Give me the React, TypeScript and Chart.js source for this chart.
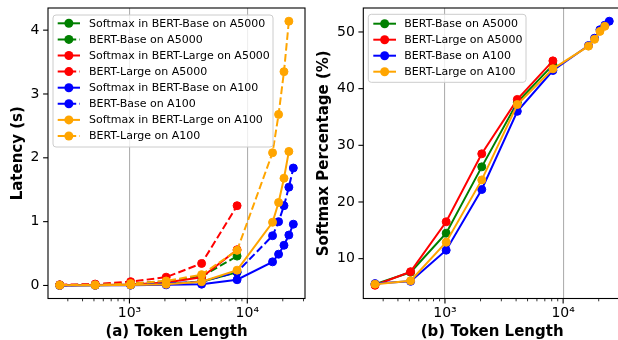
import React, { useEffect, useRef } from 'react';
import { Chart, registerables } from 'chart.js';

Chart.register(...registerables);

// ---- data ----
const tokensA5000 = [256, 512, 1024, 2048, 4096, 8192];
const tokensA100Base = [256, 512, 1024, 2048, 4096, 8192, 16384, 18432, 20480, 22528, 24576];
const tokensA100Large = [256, 512, 1024, 2048, 4096, 8192, 16384, 18432, 20480, 22528];

// latency (s)
const softmaxBaseA5000 = [0.002, 0.004, 0.01, 0.025, 0.06, 0.205];
const bertBaseA5000 = [0.008, 0.012, 0.03, 0.065, 0.14, 0.46];
const softmaxLargeA5000 = [0.003, 0.006, 0.017, 0.045, 0.13, 0.56];
const bertLargeA5000 = [0.012, 0.022, 0.06, 0.13, 0.345, 1.25];
const softmaxBaseA100 = [0.001, 0.002, 0.005, 0.01, 0.02, 0.09, 0.37, 0.49, 0.63, 0.79, 0.96];
const bertBaseA100 = [0.004, 0.008, 0.015, 0.03, 0.06, 0.21, 0.78, 1.0, 1.25, 1.54, 1.84];
const softmaxLargeA100 = [0.002, 0.003, 0.008, 0.02, 0.06, 0.24, 0.99, 1.3, 1.68, 2.1];
const bertLargeA100 = [0.006, 0.01, 0.03, 0.07, 0.17, 0.55, 2.08, 2.68, 3.35, 4.14];

// softmax percentage (%)
const pctBaseA5000 = [5.5, 7.6, 14.5, 26.2, 37.6, 44.2];
const pctLargeA5000 = [5.3, 7.7, 16.5, 28.5, 38.1, 44.9];
const pctBaseA100 = [5.6, 6.0, 11.5, 22.2, 36.0, 43.2, 47.6, 48.9, 50.4, 51.2, 51.9];
const pctLargeA100 = [5.5, 6.1, 12.9, 23.9, 37.2, 43.5, 47.5, 48.7, 50.1, 51.0];

const latencyTicks = [0, 1, 2, 3, 4];
const pctTicks = [10, 20, 30, 40, 50];
const xTickValues = [300, 400, 500, 600, 700, 800, 900, 1000, 2000, 3000, 4000, 5000, 6000, 7000, 8000, 9000, 10000, 20000, 30000];
const xMajorLabels: Record<number, string> = { 1000: '10\u00B3', 10000: '10\u2074' };

const GREEN = '#008000';
const RED = '#ff0000';
const BLUE = '#0000ff';
const ORANGE = '#ffa500';
const FONT = 'DejaVu Sans';

const isMajor = (v: number) => Math.abs(Math.log10(v) - Math.round(Math.log10(v))) < 1e-9;

function series(label: string, xs: number[], ys: number[], color: string, dashed: boolean, idx: number) {
  return {
    label,
    data: xs.map((x, i) => ({ x, y: ys[i] })),
    borderColor: color,
    backgroundColor: color,
    pointBackgroundColor: color,
    pointBorderColor: color,
    borderWidth: 2,
    borderDash: dashed ? [7.6, 3.3] : [],
    pointRadius: 4,
    pointBorderWidth: 1,
    pointHoverRadius: 4,
    tension: 0,
    fill: false,
    order: -idx,
    dashed,
  };
}

const axesPlugin = {
  id: 'mplAxes',
  afterDraw(chart: any, _args: any, opts: any) {
    const { ctx, chartArea: a, scales } = chart;
    ctx.save();
    // spines
    ctx.strokeStyle = '#000';
    ctx.lineWidth = 1.1;
    ctx.strokeRect(a.left, a.top, a.right - a.left, a.bottom - a.top);
    // x ticks
    for (const t of scales.x.ticks) {
      const px = scales.x.getPixelForValue(t.value);
      const major = isMajor(t.value);
      ctx.lineWidth = major ? 1.1 : 0.8;
      ctx.beginPath();
      ctx.moveTo(px, a.bottom);
      ctx.lineTo(px, a.bottom + (major ? 4.9 : 2.8));
      ctx.stroke();
    }
    // y ticks
    for (const t of scales.y.ticks) {
      const py = scales.y.getPixelForValue(t.value);
      ctx.lineWidth = 1.1;
      ctx.beginPath();
      ctx.moveTo(a.left, py);
      ctx.lineTo(a.left - 4.9, py);
      ctx.stroke();
    }
    // legend
    const L = opts.legend;
    if (L) {
      const { x, y, w, h, r } = L.box;
      ctx.beginPath();
      ctx.moveTo(x + r, y);
      ctx.lineTo(x + w - r, y);
      ctx.arcTo(x + w, y, x + w, y + r, r);
      ctx.lineTo(x + w, y + h - r);
      ctx.arcTo(x + w, y + h, x + w - r, y + h, r);
      ctx.lineTo(x + r, y + h);
      ctx.arcTo(x, y + h, x, y + h - r, r);
      ctx.lineTo(x, y + r);
      ctx.arcTo(x, y, x + r, y, r);
      ctx.closePath();
      ctx.fillStyle = 'rgba(255,255,255,0.8)';
      ctx.fill();
      ctx.strokeStyle = '#cccccc';
      ctx.lineWidth = 1;
      ctx.stroke();
      ctx.font = `${L.fontSize}px "${FONT}"`;
      ctx.textBaseline = 'middle';
      ctx.textAlign = 'left';
      chart.data.datasets.forEach((ds: any, i: number) => {
        const cy = L.row0 + i * L.rowStep;
        ctx.strokeStyle = ds.borderColor;
        ctx.lineWidth = 2;
        ctx.setLineDash(ds.dashed ? [7.6, 3.3] : []);
        ctx.beginPath();
        ctx.moveTo(L.lineX0, cy);
        ctx.lineTo(L.lineX1, cy);
        ctx.stroke();
        ctx.setLineDash([]);
        ctx.fillStyle = ds.borderColor;
        ctx.beginPath();
        ctx.arc((L.lineX0 + L.lineX1) / 2, cy, 4.5, 0, Math.PI * 2);
        ctx.fill();
        ctx.fillStyle = '#000';
        ctx.fillText(ds.label, L.textX, cy + 0.5);
      });
    }
    ctx.restore();
  },
};

function buildConfig(p: {
  datasets: any[];
  yMin: number;
  yMax: number;
  yTicks: number[];
  yTitle: string;
  xTitle: string;
  yWidth: number;
  yTitlePad: number;
  padRight: number;
  legend: any;
}) {
  return {
    type: 'line',
    data: { datasets: p.datasets },
    plugins: [axesPlugin],
    options: {
      animation: false,
      responsive: false,
      devicePixelRatio: 1,
      layout: { padding: { top: 8, right: p.padRight, left: 0, bottom: 0 } },
      plugins: {
        legend: { display: false },
        tooltip: { enabled: false },
        mplAxes: { legend: p.legend },
      },
      scales: {
        x: {
          type: 'logarithmic',
          min: 203.7,
          max: 30880,
          border: { display: false },
          afterBuildTicks: (s: any) => {
            s.ticks = xTickValues.map((v) => ({ value: v }));
          },
          afterFit: (s: any) => {
            s.height = 41.5;
            s.paddingLeft = 0;
            s.paddingRight = 0;
          },
          grid: {
            drawTicks: false,
            color: (c: any) => (c.tick && isMajor(c.tick.value) ? '#b0b0b0' : 'rgba(0,0,0,0)'),
            lineWidth: 1.1,
          },
          ticks: {
            autoSkip: false,
            maxRotation: 0,
            minRotation: 0,
            padding: 6.5,
            color: '#000',
            font: { family: FONT, size: 14 },
            callback: (v: any) => xMajorLabels[Math.round(Number(v))] || '',
          },
          title: {
            display: true,
            text: p.xTitle,
            color: '#000',
            font: { family: FONT, size: 15, weight: 'bold', lineHeight: 1 },
            padding: { top: 0, bottom: 0 },
          },
        },
        y: {
          type: 'linear',
          min: p.yMin,
          max: p.yMax,
          border: { display: false },
          afterBuildTicks: (s: any) => {
            s.ticks = p.yTicks.map((v) => ({ value: v }));
          },
          afterFit: (s: any) => {
            s.width = p.yWidth;
            s.paddingTop = 0;
            s.paddingBottom = 0;
          },
          grid: { display: false, drawTicks: false },
          ticks: {
            padding: 8.5,
            color: '#000',
            font: { family: FONT, size: 14 },
            callback: (v: any) => String(v),
          },
          title: {
            display: true,
            text: p.yTitle,
            color: '#000',
            font: { family: FONT, size: 15, weight: 'bold', lineHeight: 1 },
            padding: { top: p.yTitlePad, bottom: 0 },
          },
        },
      },
    },
  } as any;
}

export default function App() {
  const leftRef = useRef<HTMLCanvasElement>(null);
  const rightRef = useRef<HTMLCanvasElement>(null);

  useEffect(() => {
    Chart.defaults.font.family = FONT;
    Chart.defaults.color = '#000';

    const leftDatasets = [
      series('Softmax in BERT-Base on A5000', tokensA5000, softmaxBaseA5000, GREEN, false, 0),
      series('BERT-Base on A5000', tokensA5000, bertBaseA5000, GREEN, true, 1),
      series('Softmax in BERT-Large on A5000', tokensA5000, softmaxLargeA5000, RED, false, 2),
      series('BERT-Large on A5000', tokensA5000, bertLargeA5000, RED, true, 3),
      series('Softmax in BERT-Base on A100', tokensA100Base, softmaxBaseA100, BLUE, false, 4),
      series('BERT-Base on A100', tokensA100Base, bertBaseA100, BLUE, true, 5),
      series('Softmax in BERT-Large on A100', tokensA100Large, softmaxLargeA100, ORANGE, false, 6),
      series('BERT-Large on A100', tokensA100Large, bertLargeA100, ORANGE, true, 7),
    ];
    const rightDatasets = [
      series('BERT-Base on A5000', tokensA5000, pctBaseA5000, GREEN, false, 0),
      series('BERT-Large on A5000', tokensA5000, pctLargeA5000, RED, false, 1),
      series('BERT-Base on A100', tokensA100Base, pctBaseA100, BLUE, false, 2),
      series('BERT-Large on A100', tokensA100Large, pctLargeA100, ORANGE, false, 3),
    ];

    const left = new Chart(
      leftRef.current as HTMLCanvasElement,
      buildConfig({
        datasets: leftDatasets,
        yMin: -0.204,
        yMax: 4.347,
        yTicks: latencyTicks,
        yTitle: 'Latency (s)',
        xTitle: '(a) Token Length',
        yWidth: 48,
        yTitlePad: 11,
        padRight: 5,
        legend: {
          box: { x: 53, y: 15, w: 220, h: 132, r: 3 },
          row0: 23.3,
          rowStep: 16.1,
          lineX0: 57.7,
          lineX1: 80,
          textX: 89,
          fontSize: 11,
        },
      })
    );
    const right = new Chart(
      rightRef.current as HTMLCanvasElement,
      buildConfig({
        datasets: rightDatasets,
        yMin: 2.97,
        yMax: 54.23,
        yTicks: pctTicks,
        yTitle: 'Softmax Percentage (%)',
        xTitle: '(b) Token Length',
        yWidth: 53.3,
        yTitlePad: 6.5,
        padRight: 9,
        legend: {
          box: { x: 58.3, y: 14.3, w: 157.7, h: 68, r: 3 },
          row0: 23.7,
          rowStep: 16,
          lineX0: 63.3,
          lineX1: 86,
          textX: 94.3,
          fontSize: 11,
        },
      })
    );
    return () => {
      left.destroy();
      right.destroy();
    };
  }, []);

  return (
    <div
      style={{
        position: 'absolute',
        left: 0,
        top: 0,
        width: 618,
        height: 340,
        overflow: 'hidden',
        background: '#fff',
      }}
    >
      <canvas
        ref={leftRef}
        width={310}
        height={340}
        style={{ position: 'absolute', left: 0, top: 0, width: 310, height: 340 }}
      />
      <canvas
        ref={rightRef}
        width={320}
        height={340}
        style={{ position: 'absolute', left: 310, top: 0, width: 320, height: 340 }}
      />
    </div>
  );
}
